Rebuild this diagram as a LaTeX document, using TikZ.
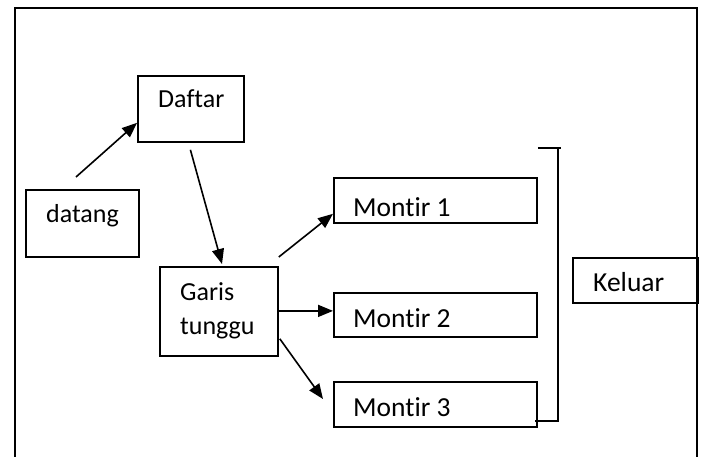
\documentclass[tikz,border=0pt]{standalone}
\usepackage{fontspec}
\setmainfont{Carlito}[Ligatures={NoCommon}]
\usetikzlibrary{arrows.meta,calc}
\begin{document}
\begin{tikzpicture}[x=1pt,y=-1pt,
  box/.style={draw, line width=1.8pt, rectangle, anchor=north west, inner sep=0pt},
  lbl/.style={anchor=base west, inner sep=0pt, font=\fontsize{26}{30}\selectfont},
  lblm/.style={anchor=base west, inner sep=0pt, font=\fontsize{27.5}{32}\selectfont},
  flow/.style={line width=1.6pt, -{Triangle[length=15pt,width=12pt]}},
  frame/.style={line width=2.2pt},
  bracket/.style={line width=1.6pt}]
\useasboundingbox (0,0) rectangle (701,456);

% outer frame (open at the bottom)
\draw[frame] (15,470) -- (15,8) -- (697,8) -- (697,470);

% boxes
\node[box, minimum width=106pt, minimum height=66pt] (daftar) at (137,75) {};
\node[box, minimum width=113pt, minimum height=67pt] (datang) at (25,189) {};
\node[box, minimum width=118pt, minimum height=89pt] (garis)  at (159,266) {};
\node[box, minimum width=203pt, minimum height=45pt] (m1)     at (333,177) {};
\node[box, minimum width=203pt, minimum height=44pt] (m2)     at (333,292) {};
\node[box, minimum width=203pt, minimum height=45pt] (m3)     at (333,381) {};
\node[box, minimum width=125pt, minimum height=45pt] (keluar) at (572,257) {};

% box texts
\node[lbl]  (tdaftar) at (158,107.7) {Daftar};
\node[lbl]  (tdatang) at (46,222.5) {datang};
\node[lbl]  (tgaris1) at (180,300) {Garis};
\node[lbl]  (tgaris2) at (180,334) {tunggu};
\node[lblm] (tm1)     at (353,216.5) {Montir 1};
\node[lblm] (tm2)     at (353,327.5) {Montir 2};
\node[lblm] (tm3)     at (353,416.5) {Montir 3};
\node[lblm] (tkeluar) at (593,291.7) {Keluar};

% connectors
\draw[flow] ($(datang.north west)+(51,-12)$) -- ($(daftar.south west)+(0,-20)$);
\draw[flow] ($(daftar.south)+(-0.5,7)$) -- ($(garis.north west)+(63,-2)$);
\draw[flow] ($(garis.north east)+(0,-9)$) -- ($(m1.south west)+(0,-10)$);
\draw[flow] ($(garis.east)+(0,-0.5)$) -- ($(m2.west)+(0,-4)$);
\draw[flow] ($(garis.south east)+(1,-18)$) -- ($(m3.north west)+(-10,18)$);

% bracket joining the three mechanics
\coordinate (btop) at ($(m1.north east)+(0,-29)$);
\coordinate (bbot) at ($(m3.south east)+(-3,-7)$);
\draw[bracket] (btop) -- ++(23,0);
\draw[bracket] ($(btop)+(20,0)$) |- (bbot);
\end{tikzpicture}
\end{document}
